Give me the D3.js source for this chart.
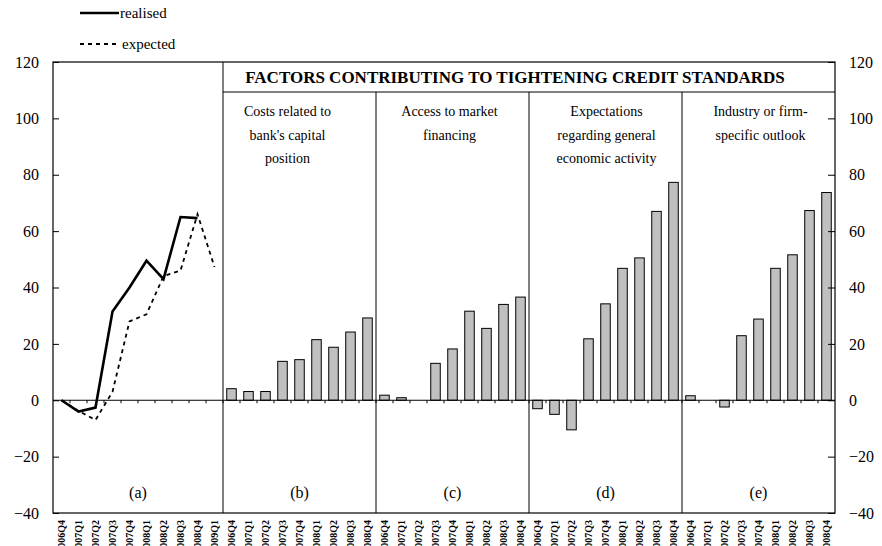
<!DOCTYPE html>
<html>
<head>
<meta charset="utf-8">
<script src="https://cdn.jsdelivr.net/npm/d3@7"></script>
<style>
  body { margin: 0; background: #fff; }
  text { font-family: "Liberation Serif", "Times New Roman", serif; fill: #000; }
</style>
</head>
<body>
<svg id="chart" width="882" height="546"></svg>
<script>
// quarters for panel (a) and for the factor panels
var quartersA = ["2006Q4", "2007Q1", "2007Q2", "2007Q3", "2007Q4", "2008Q1", "2008Q2", "2008Q3", "2008Q4", "2009Q1"];
var quartersB = ["2006Q4", "2007Q1", "2007Q2", "2007Q3", "2007Q4", "2008Q1", "2008Q2", "2008Q3", "2008Q4"];

var realised = [0, -4, -2.6, 31.5, 40, 49.5, 43, 65, 64.6];
var expected = [0, -3.8, -7, 3, 28, 30.5, 44, 46, 66, 47.3];

var panelLetters = ["(a)", "(b)", "(c)", "(d)", "(e)"];
var panelTitles = [
  ["Costs related to", "bank's capital", "position"],
  ["Access to market", "financing"],
  ["Expectations", "regarding general", "economic activity"],
  ["Industry or firm-", "specific outlook"]
];
var capitalCosts = [4.1, 3.1, 3.1, 13.8, 14.4, 21.5, 18.8, 24.2, 29.2];
var marketAccess = [1.8, 0.9, 0, 13.1, 18.2, 31.6, 25.5, 34, 36.6];
var economicActivity = [-3, -5, -10.5, 21.8, 34.2, 46.8, 50.5, 67, 77.3];
var firmOutlook = [1.6, 0, -2.4, 22.9, 28.8, 46.8, 51.6, 67.3, 73.7];
var barSeries = [capitalCosts, marketAccess, economicActivity, firmOutlook];

var yTicks = [-40, -20, 0, 20, 40, 60, 80, 100, 120];
var header = "FACTORS CONTRIBUTING TO TIGHTENING CREDIT STANDARDS";

var svg = d3.select("#chart");
var plotL = 53, plotR = 835, plotT = 62, plotB = 513, headerY = 92;
// the text boxes in the original sit a little off centre
var titleShift = [-12, -3, 1, 2];

// one slot per quarter over all five panels
var slots = [];
quartersA.forEach(function(q) { slots.push({ key: "a" + q, label: q }); });
barSeries.forEach(function(s, i) {
  quartersB.forEach(function(q) { slots.push({ key: "p" + i + q, label: q }); });
});

var x = d3.scaleBand().domain(slots.map(function(d) { return d.key; })).range([plotL, plotR]).paddingInner(0.44).paddingOuter(0.22);
var step = x.step();
var y = d3.scaleLinear().domain([-40, 120]).range([plotB, plotT]);

function slotLeft(key) { return x(key) - x.paddingInner() * step / 2; }
var panelEdges = [plotL, slotLeft("p0" + quartersB[0]), slotLeft("p1" + quartersB[0]), slotLeft("p2" + quartersB[0]), slotLeft("p3" + quartersB[0]), plotR];

// bars
barSeries.forEach(function(series, i) {
  svg.append("g").selectAll("rect").data(series).enter().append("rect")
    .attr("x", function(d, j) { return x("p" + i + quartersB[j]); })
    .attr("width", x.bandwidth())
    .attr("y", function(d) { return y(Math.max(0, d)); })
    .attr("height", function(d) { return Math.abs(y(d) - y(0)); })
    .attr("fill", "#c0c0c0")
    .attr("stroke", "#000")
    .attr("stroke-width", 1);
});

// zero line and its ticks
svg.append("line").attr("x1", plotL).attr("x2", plotR).attr("y1", y(0)).attr("y2", y(0)).attr("stroke", "#000");
svg.append("g").selectAll("line").data(slots.slice(1)).enter().append("line")
  .attr("x1", function(d) { return slotLeft(d.key); })
  .attr("x2", function(d) { return slotLeft(d.key); })
  .attr("y1", y(0)).attr("y2", y(0) + 3)
  .attr("stroke", "#000");

// lines in panel (a)
var line = d3.line()
  .x(function(d, j) { return x("a" + quartersA[j]) + x.bandwidth() / 2; })
  .y(function(d) { return y(d); });
svg.append("path").datum(expected).attr("d", line)
  .attr("fill", "none").attr("stroke", "#000").attr("stroke-width", 1.8).attr("stroke-dasharray", "4,4");
svg.append("path").datum(realised).attr("d", line)
  .attr("fill", "none").attr("stroke", "#000").attr("stroke-width", 2.6).attr("stroke-linejoin", "miter");

// frame
svg.append("rect").attr("x", plotL).attr("y", plotT).attr("width", plotR - plotL).attr("height", plotB - plotT)
  .attr("fill", "none").attr("stroke", "#000").attr("stroke-width", 1.2);
svg.append("line").attr("x1", panelEdges[1]).attr("x2", plotR).attr("y1", headerY).attr("y2", headerY).attr("stroke", "#000");
panelEdges.slice(1, 5).forEach(function(px, i) {
  svg.append("line").attr("x1", px).attr("x2", px)
    .attr("y1", i == 0 ? plotT : headerY).attr("y2", plotB).attr("stroke", "#000");
});

// y axes, ticks inward
var yLeft = d3.axisLeft(y).tickValues(yTicks).tickSize(-6).tickPadding(14);
var yRight = d3.axisRight(y).tickValues(yTicks).tickSize(-7).tickPadding(14);
var gl = svg.append("g").attr("transform", "translate(" + plotL + ",0)").call(yLeft);
var gr = svg.append("g").attr("transform", "translate(" + plotR + ",0)").call(yRight);
[gl, gr].forEach(function(g) {
  g.select(".domain").remove();
  g.selectAll("text").style("font-family", "Liberation Serif").style("font-size", "16px").attr("fill", "#000");
});

// x labels, the year runs off the bottom edge as in the original
svg.append("g").selectAll("text").data(slots).enter().append("text")
  .attr("transform", function(d) { return "translate(" + (x(d.key) + x.bandwidth() / 2) + ",520) rotate(-90)"; })
  .attr("text-anchor", "end")
  .attr("dy", "0.35em")
  .style("font-size", "10px")
  .style("font-weight", "bold")
  .text(function(d) { return d.label; });

// header and panel titles
svg.append("text").attr("x", (panelEdges[1] + plotR) / 2 - 14).attr("y", 83)
  .attr("text-anchor", "middle").style("font-size", "17px").style("font-weight", "bold").text(header);
panelTitles.forEach(function(lines, i) {
  var cx = (panelEdges[i + 1] + panelEdges[i + 2]) / 2 + titleShift[i];
  lines.forEach(function(t, k) {
    svg.append("text").attr("x", cx).attr("y", 116 + k * 23.5)
      .attr("text-anchor", "middle").style("font-size", "14px").text(t);
  });
});
panelLetters.forEach(function(t, i) {
  svg.append("text").attr("x", (panelEdges[i] + panelEdges[i + 1]) / 2).attr("y", 498)
    .attr("text-anchor", "middle").style("font-size", "16px").text(t);
});

// legend
svg.append("line").attr("x1", 80).attr("x2", 119).attr("y1", 13).attr("y2", 13).attr("stroke", "#000").attr("stroke-width", 2.6);
svg.append("text").attr("x", 120).attr("y", 18).style("font-size", "15px").text("realised");
svg.append("line").attr("x1", 80).attr("x2", 119).attr("y1", 44).attr("y2", 44).attr("stroke", "#000").attr("stroke-width", 1.8).attr("stroke-dasharray", "4,4");
svg.append("text").attr("x", 122).attr("y", 49).style("font-size", "15px").text("expected");
</script>
</body>
</html>
